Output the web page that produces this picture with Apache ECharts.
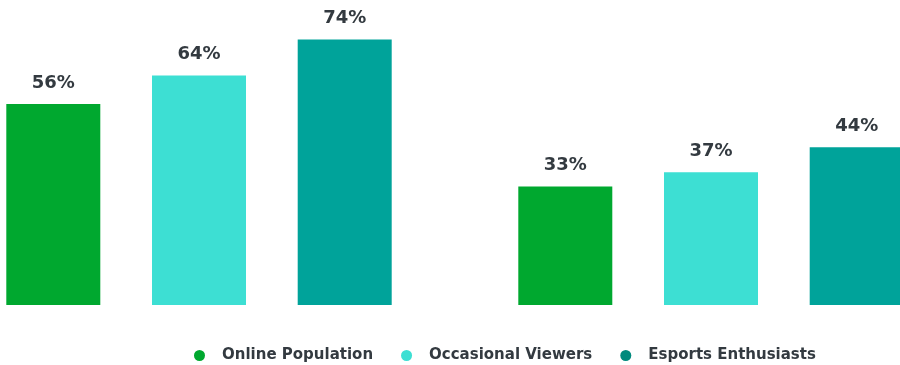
<!DOCTYPE html>
<html>
<head>
<meta charset="utf-8">
<script src="https://cdn.jsdelivr.net/npm/echarts@6/dist/echarts.min.js"></script>
<style>
  html, body { margin: 0; padding: 0; background: #fff; }
  #chart { width: 900px; height: 365px; }
</style>
</head>
<body>
<div id="chart"></div>
<script>
// Two groups of bars, three audience segments each (percent)
const categories = ['Group A', 'Group B'];
const seriesNames = ['Online Population', 'Occasional Viewers', 'Esports Enthusiasts'];
const onlinePopulation = [56, 33];
const occasionalViewers = [64, 37];
const esportsEnthusiasts = [74, 44];

const barColors = ['#00a82f', '#3ddfd3', '#00a39a'];
const legendColors = ['#00a82f', '#3ddfd3', '#008a7d'];
const values = [onlinePopulation, occasionalViewers, esportsEnthusiasts];

const chart = echarts.init(document.getElementById('chart'));

const series = seriesNames.map((name, i) => ({
  name: name,
  type: 'bar',
  data: values[i],
  barWidth: 94,
  barGap: '55%',
  itemStyle: { color: barColors[i] },
  label: {
    show: true,
    position: 'top',
    distance: 12,
    formatter: '{c}%',
    color: '#333a40',
    fontFamily: 'DejaVu Sans',
    fontWeight: 'bold',
    fontSize: 18
  }
}));

chart.setOption({
  animation: false,
  // group centres sit on the two tick points, the second group runs off the right edge
  grid: { left: 199, right: 189, top: 18, bottom: 60 },
  xAxis: {
    type: 'category',
    data: categories,
    boundaryGap: false,
    show: false
  },
  yAxis: {
    type: 'value',
    min: 0,
    max: 80,
    show: false
  },
  legend: {
    top: 343,
    left: 189,
    icon: 'circle',
    itemWidth: 11,
    itemHeight: 11,
    itemGap: 28,
    textStyle: {
      color: '#333a40',
      fontFamily: 'DejaVu Sans',
      fontWeight: 'bold',
      fontSize: 15,
      padding: [0, 0, 0, 12]
    },
    data: seriesNames.map((n, i) => ({ name: n, itemStyle: { color: legendColors[i] } }))
  },
  series: series
});
</script>
</body>
</html>
